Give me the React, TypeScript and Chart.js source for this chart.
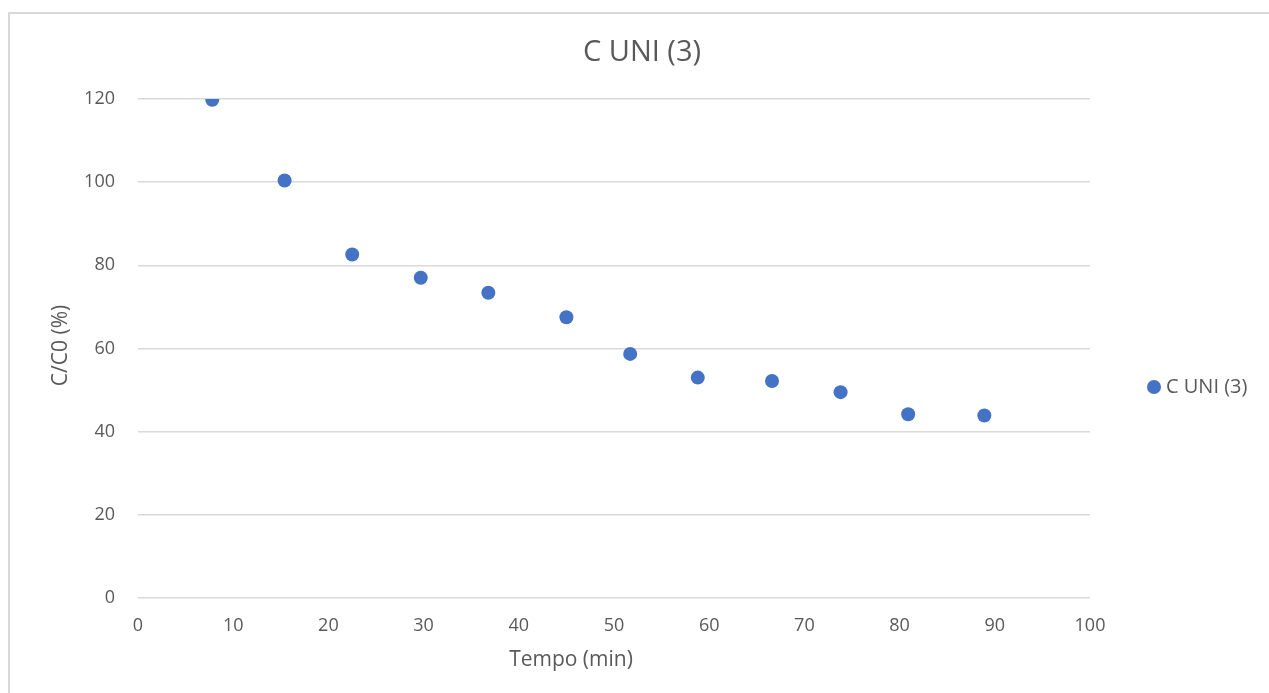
import React, { useEffect, useRef } from "react";
import { Chart, registerables } from "chart.js";

Chart.register(...registerables);

const seriesName = "C UNI (3)";
const timeMin = [7.8, 15.4, 22.5, 29.7, 36.8, 45.0, 51.7, 58.8, 66.6, 73.8, 80.9, 88.9];
const ratioPct = [119.8, 100.4, 82.6, 77.0, 73.4, 67.5, 58.7, 53.0, 52.2, 49.5, 44.2, 43.9];
const xTitle = "Tempo (min)";
const yTitle = "C/C0 (%)";

const TEXT = "#595959";
const GRID = "#d9d9d9";
const BLUE = "#4472c4";
const FONT = "'Open Sans', 'Noto Sans', sans-serif";

const extrasPlugin = {
  id: "extras",
  afterDraw(chart: any) {
    const { ctx, chartArea } = chart;
    ctx.save();
    ctx.fillStyle = TEXT;
    ctx.font = `21px ${FONT}`;
    ctx.textAlign = "center";
    ctx.textBaseline = "middle";
    // x axis title
    ctx.fillText(xTitle, 571, 660);
    // y axis title
    ctx.translate(61, (chartArea.top + chartArea.bottom) / 2 - 3);
    ctx.rotate(-Math.PI / 2);
    ctx.fillText(yTitle, 0, 0);
    ctx.restore();
    // legend
    ctx.save();
    ctx.fillStyle = BLUE;
    ctx.beginPath();
    ctx.arc(1154, 387, 7, 0, Math.PI * 2);
    ctx.fill();
    ctx.fillStyle = TEXT;
    ctx.font = `20px ${FONT}`;
    ctx.textAlign = "left";
    ctx.textBaseline = "middle";
    ctx.fillText(seriesName, 1166, 387);
    ctx.restore();
  },
};

export default function App() {
  const ref = useRef<HTMLCanvasElement>(null);
  useEffect(() => {
    if (!ref.current) return;
    const chart = new Chart(ref.current, {
      type: "scatter",
      data: {
        datasets: [
          {
            label: seriesName,
            data: timeMin.map((x, i) => ({ x, y: ratioPct[i] })),
            backgroundColor: BLUE,
            borderColor: BLUE,
            pointRadius: 7,
            pointHoverRadius: 7,
            borderWidth: 0,
          },
        ],
      },
      options: {
        responsive: false,
        animation: false,
        maintainAspectRatio: false,
        layout: { padding: { left: 15, right: 0, top: 0, bottom: 0 } },
        plugins: {
          legend: { display: false },
          tooltip: { enabled: false },
          title: {
            display: true,
            text: seriesName,
            color: TEXT,
            font: { family: FONT, size: 29, weight: "normal", lineHeight: 1.2 },
            padding: { top: 35.6, bottom: 28.6 },
          },
        },
        scales: {
          x: {
            type: "linear",
            min: 0,
            max: 100,
            ticks: {
              stepSize: 10,
              color: TEXT,
              font: { family: FONT, size: 18 },
              padding: 17,
              maxRotation: 0,
            },
            grid: { display: false, drawTicks: false },
            border: { display: false },
            afterFit: (s: any) => {
              s.height = 95;
            },
          },
          y: {
            type: "linear",
            min: 0,
            max: 120,
            ticks: {
              stepSize: 20,
              color: TEXT,
              font: { family: FONT, size: 18 },
              padding: 23,
            },
            grid: { color: GRID, lineWidth: 1.5, drawTicks: false },
            border: { display: false },
            afterFit: (s: any) => {
              s.width = 123;
            },
          },
          yRight: {
            type: "linear",
            position: "right",
            display: true,
            ticks: { display: false },
            grid: { display: false, drawTicks: false },
            border: { display: false },
            afterFit: (s: any) => {
              s.width = 179;
            },
          },
        },
      },
      plugins: [extrasPlugin],
    } as any);
    return () => chart.destroy();
  }, []);

  return (
    <div style={{ position: "absolute", left: 0, top: 0, width: 1269, height: 693, background: "#fff", overflow: "hidden" }}>
      <div
        style={{
          position: "absolute",
          left: 8,
          top: 12,
          width: 1264,
          height: 690,
          border: "2px solid #d9d9d9",
          boxSizing: "border-box",
        }}
      />
      <canvas ref={ref} width={1269} height={693} style={{ position: "absolute", left: 0, top: 0, width: 1269, height: 693 }} />
    </div>
  );
}
